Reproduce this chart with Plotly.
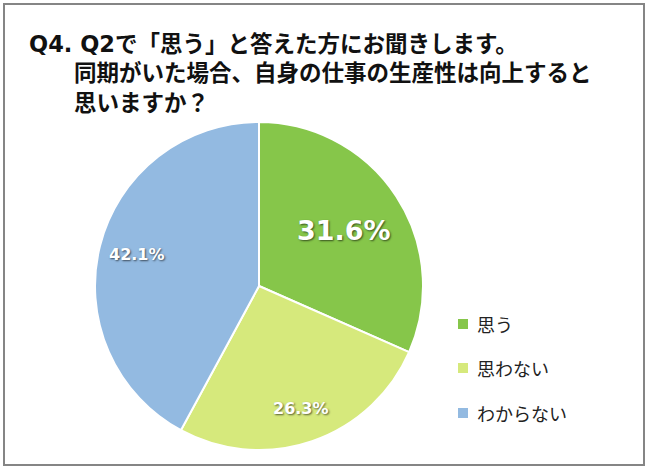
import math
import plotly.graph_objects as go

labels = ["思う", "思わない", "わからない"]
values = [31.6, 26.3, 42.1]
colors = ["#86C64A", "#D6E97C", "#93BAE1"]
label_sizes = [27, 16, 16]
label_radius = [0.62, 0.79, 0.77]

title_lines = ["Q4. Q2で「思う」と答えた方にお聞きします。",
               "同期がいた場合、自身の仕事の生産性は向上すると",
               "思いますか？"]

W, H = 650, 471
cx, cy, R = 259, 286, 164  # pixels from top-left

fig = go.Figure()
fig.add_trace(go.Pie(
    labels=labels, values=values, sort=False, direction="clockwise", rotation=0,
    marker=dict(colors=colors, line=dict(color="white", width=2)),
    textinfo="none", hoverinfo="label+percent", showlegend=False,
    domain=dict(x=[(cx - R) / W, (cx + R) / W], y=[(H - cy - R) / H, (H - cy + R) / H]),
))

ann = []
# percentage labels placed at slice mid-angles
total = sum(values)
cum = 0
for v, s, rf in zip(values, label_sizes, label_radius):
    mid = (cum + v / 2) / total * 2 * math.pi
    cum += v
    px = cx + rf * R * math.sin(mid)
    py = cy - rf * R * math.cos(mid)
    ann.append(dict(x=px / W, y=1 - py / H, xref="paper", yref="paper",
                    xanchor="center", yanchor="middle",
                    text=f"<b>{v:.1f}%</b>", showarrow=False,
                    font=dict(family="DejaVu Sans", size=s, color="white",
                              shadow="1px 1px 2px rgba(0,0,0,0.6)")))

# title (single multi-line text, continuation lines indented)
indent = '<span style="font-family:Noto Sans CJK JP">\u3000\u3000</span>'
title_text = "<b>" + title_lines[0] + "<br>" + "<br>".join(indent + t for t in title_lines[1:]) + "</b>"
ann.append(dict(x=27 / W, y=1 - 74 / H, xref="paper", yref="paper", xanchor="left",
                yanchor="middle", align="left", text=title_text, showarrow=False,
                font=dict(family="DejaVu Sans, Noto Sans CJK JP", size=22.5, color="#111")))

# legend
shapes = []
leg_y = [324, 368, 413]
for lab, col, y in zip(labels, colors, leg_y):
    shapes.append(dict(type="rect", xref="paper", yref="paper",
                       x0=458 / W, x1=468 / W, y0=1 - (y + 5) / H, y1=1 - (y - 5) / H,
                       fillcolor=col, line=dict(width=0)))
    ann.append(dict(x=475 / W, y=1 - y / H, xref="paper", yref="paper", xanchor="left",
                    yanchor="middle", text=lab, showarrow=False,
                    font=dict(family="Noto Sans CJK JP", size=18, color="#222")))

# outer frame
shapes.append(dict(type="rect", xref="paper", yref="paper",
                   x0=4 / W, x1=644 / W, y0=1 - 465 / H, y1=1 - 4 / H,
                   line=dict(color="#858585", width=2)))

fig.update_layout(width=W, height=H, margin=dict(l=0, r=0, t=0, b=0),
                  paper_bgcolor="white", plot_bgcolor="white",
                  annotations=ann, shapes=shapes)
fig.write_html("out.html")
